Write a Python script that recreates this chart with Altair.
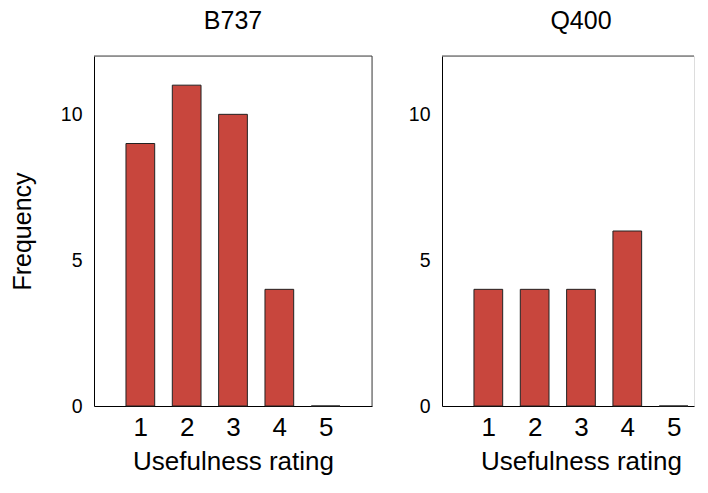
import altair as alt
import pandas as pd

ratings = [1, 2, 3, 4, 5]
b737 = [9, 11, 10, 4, 0]
q400 = [4, 4, 4, 6, 0]
panels = ["B737", "Q400"]
y_ticks = [0, 5, 10]
y_max = 12
x_max = 6
x_max_clipped = 5.44  # right panel runs off the picture's right edge

FONT = "Liberation Sans"
BAR_FILL = "#c8463d"
FRAME = "#444444"


def panel(name, values, show_y_title, width, xmax, right_border, title_dx, title_x):
    df = pd.DataFrame({"rating": ratings, "freq": values})
    y_axis = alt.Axis(
        values=y_ticks, grid=False, ticks=False, tickSize=0, labelPadding=12,
        labelFontSize=19.5, titleFontSize=25, titlePadding=25,
        domainColor="black", labelColor="black", titleColor="black",
        titleFontWeight="normal", labelFont=FONT, titleFont=FONT,
    )
    x_kwargs = dict(
        values=ratings, grid=False, ticks=False, tickSize=0, labelPadding=8,
        labelFontSize=26, titleFontSize=26, titlePadding=8,
        domainColor="black", labelColor="black", titleColor="black",
        titleFontWeight="normal", labelFont=FONT, titleFont=FONT,
    )
    if title_x is not None:
        x_kwargs["titleX"] = title_x
    x_axis = alt.Axis(**x_kwargs)
    xs = alt.Scale(domain=[0, xmax], nice=False)
    ys = alt.Scale(domain=[0, y_max], nice=False)

    bars = alt.Chart(df).transform_calculate(
        x0="datum.rating - 0.31", x1="datum.rating + 0.31"
    ).mark_bar(fill=BAR_FILL, stroke="#222222", strokeWidth=1).encode(
        x=alt.X("x0:Q", scale=xs, axis=x_axis, title="Usefulness rating"),
        x2="x1:Q",
        y=alt.Y("freq:Q", scale=ys, axis=y_axis,
                title="Frequency" if show_y_title else None),
        y2=alt.datum(0),
    )
    top_rule = alt.Chart(pd.DataFrame({"top": [y_max]})).mark_rule(
        color=FRAME, strokeWidth=1
    ).encode(y=alt.Y("top:Q", scale=ys))
    layers = [bars, top_rule]
    if right_border:
        right_rule = alt.Chart(pd.DataFrame({"right": [x_max]})).mark_rule(
            color=FRAME, strokeWidth=1
        ).encode(x=alt.X("right:Q", scale=xs))
        layers.append(right_rule)

    return alt.layer(*layers).properties(
        width=width, height=350,
        title=alt.TitleParams(name, fontSize=25, font=FONT, fontWeight="normal",
                              color="black", frame="group", anchor="middle",
                              offset=22, dx=title_dx),
    )


chart = alt.hconcat(
    panel(panels[0], b737, True, 278, x_max, True, 0, None),
    panel(panels[1], q400, False, 252, x_max_clipped, False, 13, 139),
    spacing=34,
).properties(
    padding={"left": 1, "top": 0, "right": 0, "bottom": 0}
).configure_view(
    strokeWidth=0
).configure(
    background="white"
)

chart.save("out.html", embed_options={"renderer": "svg", "actions": False})
